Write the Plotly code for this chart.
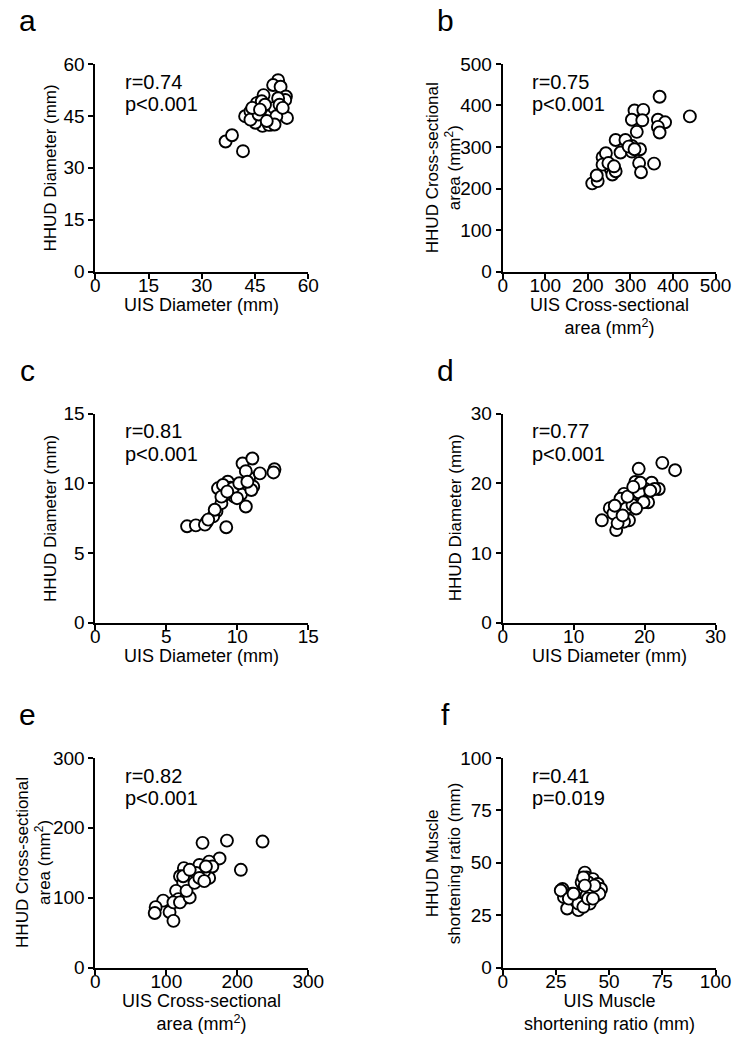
import plotly.graph_objects as go

# ---------------- data ----------------
a_x = [36.7, 38.5, 41.6, 42.2, 43.7, 45.3, 45.5, 47.4, 46.9, 48.5, 47.1, 49.6, 49.6, 50.4, 51.5, 50.1, 52.2,
       53.7, 53.5, 54.0, 51.5, 45.1, 48.9, 43.7, 46.0, 47.8, 51.0, 51.9, 44.2, 50.5, 52.8, 48.3, 46.4]
a_y = [37.6, 39.4, 34.8, 44.9, 46.3, 43.5, 48.7, 51.0, 49.2, 46.3, 42.1, 42.5, 45.4, 47.3, 55.3, 53.9, 53.4,
       50.6, 49.6, 44.4, 50.1, 43.0, 42.4, 43.9, 45.4, 48.2, 44.9, 48.2, 47.3, 42.5, 47.3, 43.5, 46.8]

b_x = [368.6, 439.7, 309.7, 330.3, 303.5, 328.0, 364.7, 381.5, 364.7, 368.6, 315.0, 265.4, 288.3, 303.5, 322.7,
       276.9, 303.5, 234.7, 242.5, 254.0, 234.7, 257.6, 265.4, 320.5, 355.6, 325.0, 210.4, 223.2, 220.9, 248.4,
       296.0, 309.7, 261.5]
b_y = [421.0, 373.7, 388.0, 389.4, 365.7, 364.3, 365.7, 359.5, 348.4, 334.9, 336.5, 316.9, 316.9, 302.6, 294.6,
       286.8, 289.1, 275.6, 285.1, 247.2, 257.6, 233.9, 241.7, 261.4, 260.0, 239.4, 212.6, 218.0, 231.5, 261.4,
       301.0, 294.6, 253.6]

c_x = [6.46, 7.08, 7.84, 7.72, 9.22, 8.53, 8.88, 8.64, 9.33, 9.52, 9.79, 9.10, 10.60, 10.26, 10.83, 11.12, 10.37,
       11.06, 10.60, 11.59, 12.62, 12.55, 8.99, 9.68, 8.30, 10.99, 10.14, 8.88, 8.41, 9.98, 10.71, 7.95, 9.29]
c_y = [6.92, 6.99, 7.23, 7.04, 6.85, 7.99, 8.58, 9.65, 10.12, 9.69, 9.05, 9.17, 8.34, 9.22, 10.40, 9.77, 11.43,
       11.79, 10.88, 10.72, 11.02, 10.79, 9.89, 9.65, 7.63, 9.53, 10.01, 9.05, 8.11, 8.94, 10.12, 7.40, 9.41]

d_x = [19.17, 22.5, 24.3, 13.98, 15.1, 16.24, 16.0, 16.6, 18.05, 18.7, 19.85, 21.0, 22.0, 20.5, 17.1, 17.8, 16.6,
       15.6, 17.4, 18.3, 20.1, 19.2, 21.4, 17.1, 16.2, 17.6, 19.4, 19.85, 15.8, 18.4, 16.9, 20.8, 18.8]
d_y = [22.1, 22.96, 21.9, 14.7, 16.45, 16.36, 13.3, 15.2, 17.8, 20.2, 19.2, 20.1, 19.2, 17.3, 18.5, 14.7, 17.8,
       15.7, 16.4, 16.9, 19.2, 18.7, 19.2, 14.5, 14.3, 18.1, 20.1, 17.3, 16.8, 19.5, 15.4, 18.95, 16.4]

e_x = [151.0, 185.4, 235.6, 205.0, 175.0, 160.3, 146.6, 124.7, 119.2, 137.4, 160.3, 153.4, 123.7, 142.0, 113.7,
       116.9, 128.4, 95.5, 84.9, 83.6, 104.5, 110.0, 110.0, 119.2, 132.9, 128.4, 139.7, 146.6, 164.8, 155.8,
       123.7, 153.4, 132.9]
e_y = [178.5, 181.7, 180.3, 139.9, 156.2, 151.6, 146.9, 142.3, 130.7, 123.7, 128.3, 137.7, 121.3, 135.3, 109.8,
       98.0, 100.4, 95.8, 86.5, 78.1, 79.5, 66.9, 93.4, 93.4, 100.4, 109.8, 121.3, 128.3, 144.6, 144.6, 130.7,
       123.7, 139.9]

f_x = [28.1, 28.8, 30.3, 35.6, 32.6, 37.1, 38.6, 39.4, 37.1, 40.9, 42.4, 44.7, 46.2, 43.9, 40.9, 37.9, 40.1,
       34.1, 36.3, 39.4, 43.1, 27.3, 31.1, 37.9, 41.6, 45.4, 35.6, 37.9, 40.1, 43.1, 38.6, 33.3, 42.4]
f_y = [37.5, 33.6, 28.2, 27.4, 35.2, 32.1, 45.3, 43.0, 40.7, 38.3, 42.2, 39.9, 37.5, 34.4, 30.5, 36.8, 40.7,
       32.1, 34.4, 34.4, 36.8, 36.8, 32.9, 43.0, 35.2, 35.2, 30.5, 29.0, 32.9, 39.1, 39.1, 35.2, 32.9]

panel_letters = ["a", "b", "c", "d", "e", "f"]
r_texts = ["r=0.74", "r=0.75", "r=0.81", "r=0.77", "r=0.82", "r=0.41"]
p_texts = ["p<0.001", "p<0.001", "p<0.001", "p<0.001", "p<0.001", "p=0.019"]
x_titles = ["UIS Diameter (mm)", "UIS Cross-sectional<br>area (mm<sup>2</sup>)", "UIS Diameter (mm)",
            "UIS Diameter (mm)", "UIS Cross-sectional<br>area (mm<sup>2</sup>)", "UIS Muscle<br>shortening ratio (mm)"]
y_titles = ["HHUD Diameter (mm)", "HHUD Cross-sectional<br>area (mm<sup>2</sup>)", "HHUD Diameter (mm)",
            "HHUD Diameter (mm)", "HHUD Cross-sectional<br>area (mm<sup>2</sup>)", "HHUD Muscle<br>shortening ratio (mm)"]
x_ranges = [60, 500, 15, 30, 300, 100]
y_ranges = [60, 500, 15, 30, 300, 100]
x_dticks = [15, 100, 5, 10, 100, 25]
y_dticks = [15, 100, 5, 10, 100, 25]

xs = [a_x, b_x, c_x, d_x, e_x, f_x]
ys = [a_y, b_y, c_y, d_y, e_y, f_y]

# ---------------- layout geometry (pixels) ----------------
W, H = 750, 1060
col_px = [(93, 312), (512, 731)]
row_px = [(55, 267), (412, 625), (763, 977)]
y_title_cx = [47, 451, 47, 463, 30, 451]
letter_cx = [23, 453]

def px(x):
    return x / W

def py(y):
    return 1 - y / H

FONT = "Liberation Sans, Arial, sans-serif"
fig = go.Figure()
layout = dict(
    width=W, height=H, margin=dict(l=0, r=0, t=0, b=0),
    paper_bgcolor="white", plot_bgcolor="white", showlegend=False,
    font=dict(family=FONT, color="black", size=18),
)
annotations = []

for i in range(6):
    r, c = divmod(i, 2)
    (x0, x1), (y0, y1) = col_px[c], row_px[r]
    n = i + 1
    xa = "xaxis" if n == 1 else f"xaxis{n}"
    ya = "yaxis" if n == 1 else f"yaxis{n}"
    xref = "x" if n == 1 else f"x{n}"
    yref = "y" if n == 1 else f"y{n}"
    tickfont = dict(family=FONT, size=19, color="black")
    common = dict(showline=True, linecolor="black", linewidth=2, ticks="outside", ticklen=5,
                  tickwidth=2, tickcolor="black", showgrid=False, zeroline=False,
                  tickfont=tickfont, fixedrange=True)
    # main x axis: line + tick marks (labels drawn by the overlay axis below, closer to the line)
    layout[xa] = dict(domain=[px(x0), px(x1)], anchor=yref, range=[0, x_ranges[i]], dtick=x_dticks[i],
                      tick0=0, showticklabels=False, **common)
    layout[ya] = dict(domain=[py(y1), py(y0)], anchor=xref, range=[0, y_ranges[i]], dtick=y_dticks[i],
                      tick0=0, **common)
    # overlay x axis carrying only the tick labels
    m = n + 6
    xa_lab = f"xaxis{m}"
    layout[xa_lab] = dict(domain=[px(x0), px(x1)], anchor=yref, overlaying=xref, range=[0, x_ranges[i]],
                          dtick=x_dticks[i], tick0=0, showline=False, ticks="", showgrid=False,
                          zeroline=False, tickfont=tickfont, fixedrange=True, side="bottom")
    fig.add_trace(go.Scatter(x=[None], y=[None], xaxis=f"x{m}", yaxis=yref, mode="markers",
                             hoverinfo="skip", marker=dict(opacity=0)))
    fig.add_trace(go.Scatter(
        x=xs[i], y=ys[i], mode="markers", xaxis=xref, yaxis=yref, cliponaxis=False,
        marker=dict(symbol="circle", size=12, color="white", line=dict(color="black", width=1.9)),
    ))
    # panel letter
    annotations.append(dict(text=panel_letters[i], xref="paper", yref="paper",
                            x=px(letter_cx[c]), y=py(y0 - 44), xanchor="center", yanchor="middle",
                            showarrow=False, font=dict(size=30, family=FONT)))
    # stats
    annotations.append(dict(text=r_texts[i], xref="paper", yref="paper",
                            x=px(x0 + 28), y=py(y0 + 18), xanchor="left", yanchor="middle",
                            showarrow=False, font=dict(size=20, family=FONT)))
    annotations.append(dict(text=p_texts[i], xref="paper", yref="paper",
                            x=px(x0 + 28), y=py(y0 + 41), xanchor="left", yanchor="middle",
                            showarrow=False, font=dict(size=20, family=FONT)))
    # x title
    annotations.append(dict(text=x_titles[i], xref="paper", yref="paper",
                            x=px((x0 + x1) / 2), y=py(y1 + 22), xanchor="center", yanchor="top",
                            showarrow=False, font=dict(size=18, family=FONT)))
    # y title
    annotations.append(dict(text=y_titles[i], xref="paper", yref="paper", textangle=-90,
                            x=px(y_title_cx[i]), y=py((y0 + y1) / 2), xanchor="center", yanchor="middle",
                            showarrow=False, font=dict(size=17, family=FONT)))

layout["annotations"] = annotations
fig.update_layout(**layout)
fig.write_html("out.html")
